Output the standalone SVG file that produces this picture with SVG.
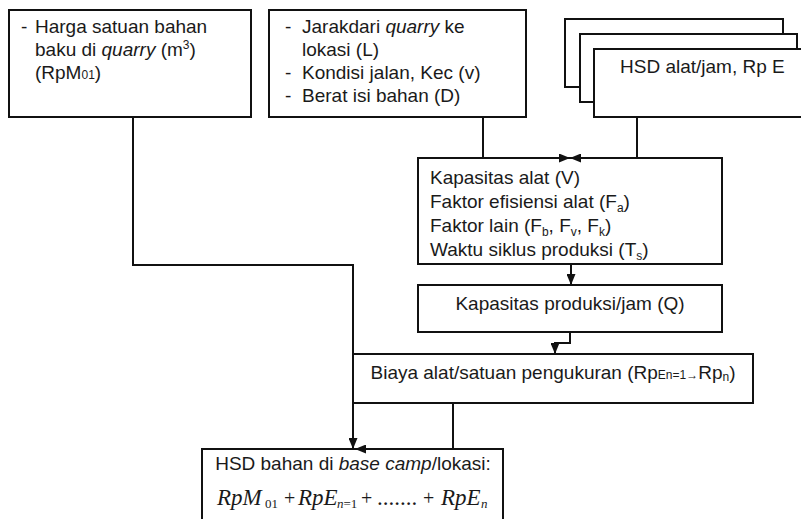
<svg xmlns="http://www.w3.org/2000/svg" width="801" height="519" viewBox="0 0 801 519">
<defs>
<marker id="ah" markerWidth="11" markerHeight="9" refX="11" refY="4.5" orient="auto" markerUnits="userSpaceOnUse">
<path d="M0,0 L11,4.5 L0,9 z" fill="#111"/>
</marker>
<style>
.box{fill:#fff;stroke:#111;stroke-width:2}
.t{font-family:"Liberation Sans",Arial,sans-serif;font-size:19px;fill:#1a1a1a}
.c{text-anchor:middle}
.it{font-style:italic}
.sm{font-size:12px}
.f{font-family:"Liberation Serif","Times New Roman",serif;font-size:23px;fill:#1a1a1a}
.fs{font-size:13px}
.pl{font-size:20px}
.conn{fill:none;stroke:#111;stroke-width:2}
</style>
</defs>
<rect width="801" height="519" fill="#fff"/>

<g id="node-harga">
<rect class="box" x="9" y="10" width="242" height="107"/>
<text class="t" x="21" y="33">-</text>
<text class="t" x="35" y="33">Harga satuan bahan</text>
<text class="t" x="35" y="56">baku di <tspan class="it">quarry</tspan> (m<tspan class="sm" dy="-7">3</tspan><tspan dy="7">)</tspan></text>
<text class="t" x="35" y="79">(RpM<tspan class="sm">01</tspan>)</text>
</g>

<g id="node-jarak">
<rect class="box" x="269" y="10" width="257" height="107"/>
<text class="t" x="285" y="33">-</text>
<text class="t" x="302" y="33">Jarakdari <tspan class="it">quarry</tspan> ke</text>
<text class="t" x="302" y="56">lokasi (L)</text>
<text class="t" x="285" y="79">-</text>
<text class="t" x="302" y="79">Kondisi jalan, Kec (v)</text>
<text class="t" x="285" y="102">-</text>
<text class="t" x="302" y="102">Berat isi bahan (D)</text>
</g>

<g id="node-hsd-alat">
<rect class="box" x="565" y="19" width="218" height="68"/>
<rect class="box" x="580" y="34" width="217" height="68"/>
<rect class="box" x="594" y="49" width="220" height="68"/>
<text class="t" x="620" y="73">HSD alat/jam, Rp E</text>
</g>

<g id="node-kapasitas-alat">
<rect class="box" x="418" y="158" width="304" height="106"/>
<text class="t" x="430" y="184">Kapasitas alat (V)</text>
<text class="t" x="430" y="208">Faktor efisiensi alat (F<tspan class="sm" dy="4">a</tspan><tspan dy="-4">)</tspan></text>
<text class="t" x="430" y="232">Faktor lain (F<tspan class="sm" dy="4">b</tspan><tspan dy="-4">, F</tspan><tspan class="sm" dy="4">v</tspan><tspan dy="-4">, F</tspan><tspan class="sm" dy="4">k</tspan><tspan dy="-4">)</tspan></text>
<text class="t" x="430" y="256">Waktu siklus produksi (T<tspan class="sm" dy="4">s</tspan><tspan dy="-4">)</tspan></text>
</g>

<g id="node-kapasitas-produksi">
<rect class="box" x="418" y="285" width="304" height="47"/>
<text class="t c" x="570" y="310">Kapasitas produksi/jam (Q)</text>
</g>

<g id="node-biaya">
<rect class="box" x="353" y="354" width="400" height="49"/>
<text class="t c" x="553" y="379">Biaya alat/satuan pengukuran (Rp<tspan class="sm">En=1→</tspan>Rp<tspan class="sm" dy="2">n</tspan><tspan dy="-2">)</tspan></text>
</g>

<g id="node-hsd-bahan">
<rect class="box" x="202" y="449" width="301" height="85"/>
<text class="t c" x="353" y="470">HSD bahan di <tspan class="it">base camp</tspan>/lokasi:</text>
<text class="f" y="505"><tspan class="it" x="217">RpM</tspan><tspan class="fs" x="265" dy="3">01</tspan><tspan class="pl" x="284" dy="-3">+</tspan><tspan class="it" x="298">RpE</tspan><tspan class="fs" x="337" dy="3"><tspan class="it">n</tspan>=1</tspan><tspan class="pl" x="361" dy="-3">+</tspan><tspan x="377">.......</tspan><tspan class="pl" x="423">+</tspan><tspan class="it" x="441">RpE</tspan><tspan class="fs it" x="481" dy="3">n</tspan></text>
</g>

<g id="connectors">
<path class="conn" d="M483,117 V158 H570" marker-end="url(#ah)"/>
<path class="conn" d="M637,117 V158 H570" marker-end="url(#ah)"/>
<path class="conn" d="M571,264 V285" marker-end="url(#ah)"/>
<path class="conn" d="M570,332 V343 H555 V354" marker-end="url(#ah)"/>
<path class="conn" d="M133,117 V265 H353 V449" marker-end="url(#ah)"/>
<path class="conn" d="M453,403 V449 H355" marker-end="url(#ah)"/>
</g>
</svg>
